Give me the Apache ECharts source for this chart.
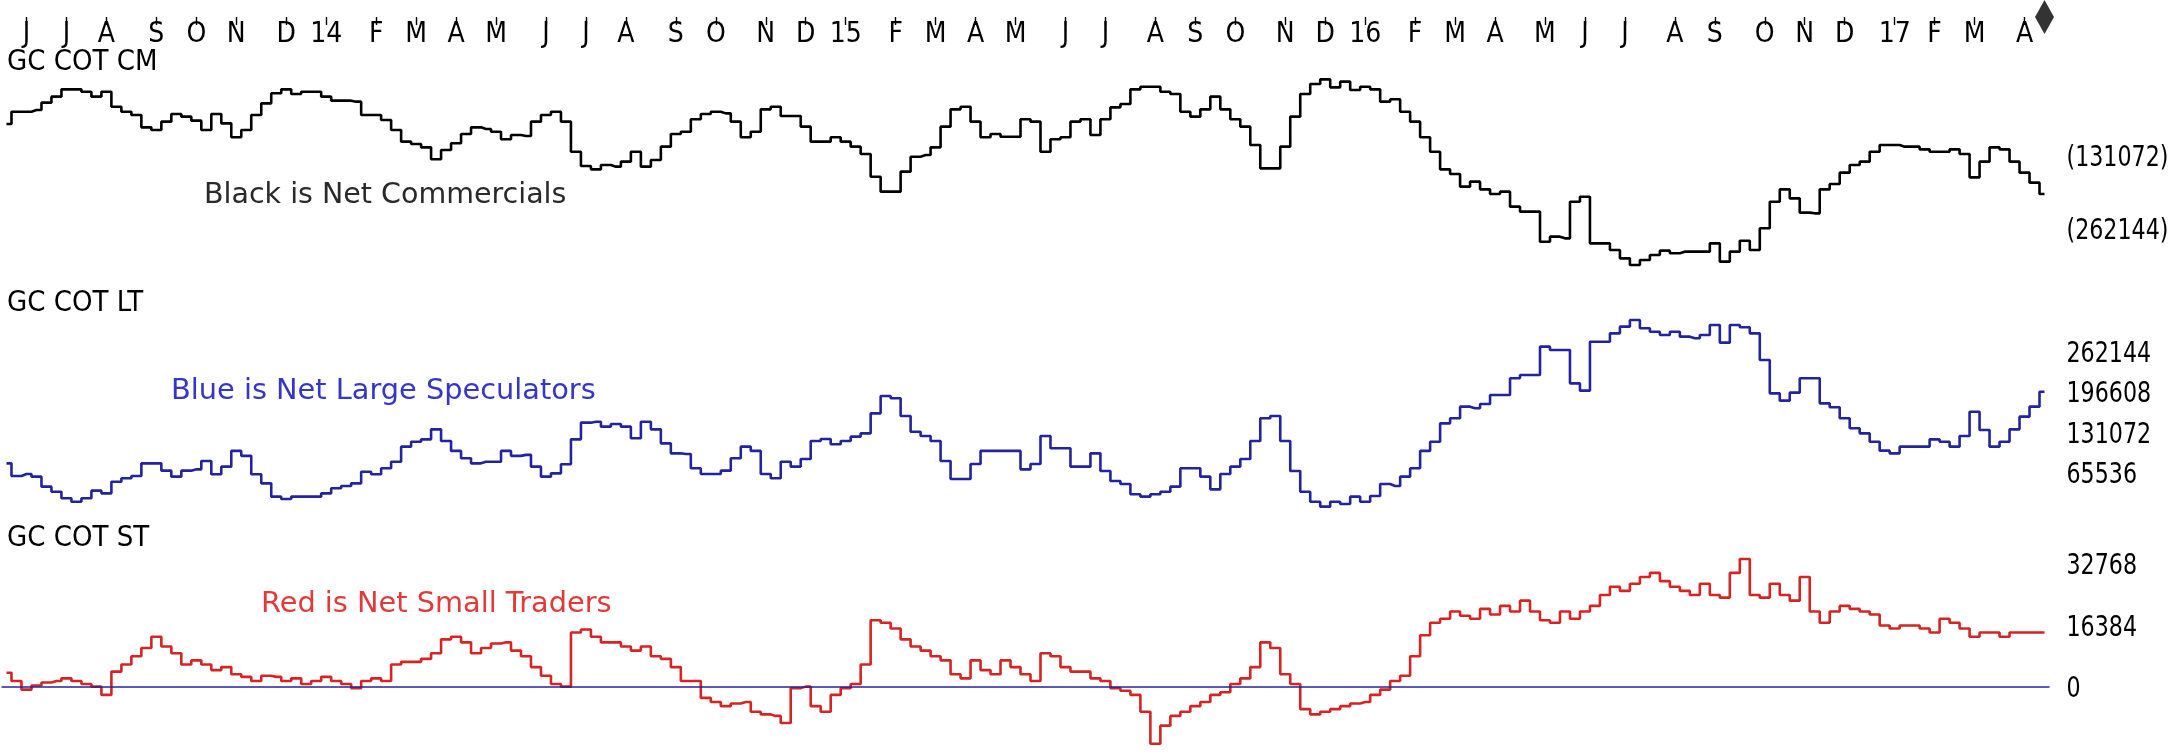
<!DOCTYPE html>
<html><head><meta charset="utf-8">
<script src="https://cdn.jsdelivr.net/npm/echarts@6/dist/echarts.min.js"></script>
<style>html,body{margin:0;padding:0;background:#fff}#c{width:2179px;height:755px}</style>
</head><body><div id="c"></div>
<script>
// ---- data (weekly COT, Fridays) ----
const START_FRIDAY = [2013, 4, 24]; // 24 May 2013
const WEEK_COUNT = 205;
const MONTH_INITIALS = ['J','F','M','A','M','J','J','A','S','O','N','D'];
const PANEL_TITLES = ['GC COT CM', 'GC COT LT', 'GC COT ST'];
const PANEL_NOTES = ['Black is Net Commercials', 'Blue is Net Large Speculators', 'Red is Net Small Traders'];
const CM_TICKS = [-131072, -262144];
const LT_TICKS = [262144, 196608, 131072, 65536];
const ST_TICKS = [32768, 16384, 0];

const netCommercials = [
-77200,-55100,-55100,-52100,-38900,-28100,-15000,-15000,-19200,-28100,
-19200,-46100,-55100,-61000,-83200,-88000,-73000,-59300,-64000,-71200,
-88000,-59300,-76000,-101100,-88000,-61000,-40100,-22100,-15000,-23300,
-19200,-19200,-28100,-35300,-35300,-37100,-61000,-61000,-70000,-88000,
-108900,-113100,-119100,-140600,-123900,-111900,-95200,-83200,-86200,-91000,
-104700,-97000,-98800,-73000,-61000,-55100,-73000,-126900,-152600,-158600,
-150800,-153800,-144800,-126900,-153800,-141800,-117900,-95200,-91000,-68800,
-59300,-55100,-58100,-73000,-101100,-91000,-50900,-46100,-62800,-62800,
-82000,-108900,-108900,-101100,-108900,-117900,-131100,-171800,-198700,-198700,
-162800,-135900,-132900,-119100,-82000,-50900,-46100,-73000,-101100,-95200,
-100000,-100000,-68800,-73000,-126900,-104700,-101100,-73000,-68800,-97000,
-68800,-47300,-41300,-15000,-10200,-10200,-19200,-23300,-55100,-64000,
-50900,-28100,-50900,-68800,-82000,-114900,-156800,-156800,-117900,-64000,
-23300,-5400,3000,-11400,-1200,-16200,-10200,-15000,-37100,-32900,
-55100,-73000,-101100,-126900,-158600,-167000,-189700,-180700,-194500,-202900,
-198700,-225600,-234600,-234600,-288500,-279500,-282500,-216700,-207700,-291500,
-291500,-303400,-318400,-330400,-321400,-312400,-304600,-309400,-306400,-306400,
-306400,-291500,-324400,-306400,-286700,-303400,-264500,-216700,-194500,-210700,
-236400,-237600,-194500,-184900,-164600,-150800,-144800,-126900,-114900,-114900,
-117900,-117900,-122700,-126900,-126900,-122700,-131100,-173000,-144800,-119100,
-122700,-144800,-164600,-182500,-202900
];
const netLargeSpeculators = [
80800,60200,63400,59100,42800,34600,23800,18300,23800,36300,
31900,50900,56400,60200,80800,80800,68900,59100,68900,71000,
84600,62900,75400,101100,93000,62900,48200,26500,22700,26500,
26500,26500,31900,40100,43900,48200,67200,62900,72700,83500,
108000,116100,119900,136200,117200,101100,89100,80800,83500,83500,
101100,93000,94600,75400,59100,64500,79200,119900,147100,148700,
140600,144900,140600,121600,148700,136200,113400,97100,96000,72700,
63400,63400,68900,89000,108000,101100,63400,56400,83500,75400,
87900,117200,120500,111800,117200,124300,129700,162300,190600,186800,
158000,132400,125400,117200,84600,55300,55300,79700,101100,101100,
101100,101100,71000,79700,125400,105300,105300,75400,75400,97100,
68300,52000,47100,30300,26500,30300,34600,42800,72700,72700,
59100,38400,63400,75400,87900,117200,154200,158000,117200,68300,
34600,18300,10200,18300,14500,26500,18300,27600,47100,43900,
59100,72700,101100,116100,146000,154200,173200,170500,177500,192200,
192200,219400,224800,224800,271000,265600,265600,211200,199300,279100,
279100,292700,303600,314400,300900,295400,290000,295400,287300,284600,
290000,306300,277500,306300,302500,292700,249300,194900,183000,196000,
219400,219400,178600,172100,154200,137900,129700,116100,101500,97100,
108000,108000,108000,119900,116100,108000,125400,165000,135100,108000,
116100,136200,156900,173200,197600
];
const netSmallTraders = [
3800,1600,-700,400,1200,1600,2300,1600,800,100,
-2100,4100,6000,8200,10400,13400,10800,9000,6000,7100,
6000,4500,5300,3400,2700,1600,3000,2700,1600,2300,
800,1600,2700,1600,800,-300,1600,2300,1600,6000,
6700,6700,7500,9000,12700,13400,11900,9000,10400,11600,
11900,9700,8200,5300,3000,800,100,14500,15300,13400,
11900,11900,10800,9700,10800,8200,7500,5300,1600,1600,
-2900,-4000,-5100,-4400,-4000,-6600,-7300,-7700,-9600,-300,
100,-5100,-6600,-2100,-300,800,6000,17800,17100,15600,
12700,10800,9700,8200,7100,3400,2300,7100,4500,3400,
7100,5300,3400,1600,9000,8200,5300,4100,4100,2300,
1600,-300,-1000,-2100,-6600,-15100,-10300,-7700,-6600,-5100,
-4000,-2100,-1400,800,2300,5300,11900,10400,3400,800,
-5900,-7300,-6600,-5900,-5100,-4400,-4000,-2100,-700,1600,
3000,8200,13800,17100,18200,20100,19000,18200,20800,19300,
21600,20100,23000,20100,17800,17100,20100,18200,20100,21600,
24500,26700,25600,27500,29300,30400,28200,26700,25600,24500,
27500,24500,23800,30400,34100,24500,23800,27500,24500,23000,
29300,20100,17100,20100,21600,20800,20100,19300,16400,15600,
16400,16400,15600,14500,18200,17100,15600,13400,14500,14500,
13400,14500,14500,14500,14500
];

// weekly category axis (Friday dates)
const weeks = [];
for (let i = 0; i < WEEK_COUNT; i++) {
  const d = new Date(Date.UTC(START_FRIDAY[0], START_FRIDAY[1], START_FRIDAY[2] + 7 * i));
  weeks.push(d.toISOString().slice(0, 10));
}
function isMonthStart(i) { return i > 0 && weeks[i].slice(5, 7) !== weeks[i - 1].slice(5, 7); }
function monthLabel(i) {
  const m = +weeks[i].slice(5, 7);
  return m === 1 ? weeks[i].slice(2, 4) : MONTH_INITIALS[m - 1];
}

// ---- styling ----
const NARROW = "'DejaVu Sans Condensed','DejaVu Sans',sans-serif";
const NOTE_FONT = "'DejaVu Sans',Verdana,sans-serif";
const BLUE = '#23239b';
const RED = '#d42424';
const L = 1.5, W = 2048;
const LABEL_X = L + W + 17;

const hiddenX = (gi) => ({
  type: 'category', gridIndex: gi, data: weeks, boundaryGap: true,
  axisLine: {show: false}, axisTick: {show: false}, axisLabel: {show: false}, splitLine: {show: false}
});
const rightY = (gi, min, max) => ({
  type: 'value', gridIndex: gi, position: 'right', min: min, max: max, scale: false,
  axisLine: {show: false}, axisTick: {show: false}, splitLine: {show: false}, axisLabel: {show: false}
});

const chart = echarts.init(document.getElementById('c'), null, {renderer: 'canvas'});
chart.setOption({
  animation: false,
  backgroundColor: '#fff',
  grid: [
    {left: L, width: W, top: 70, height: 210},
    {left: L, width: W, top: 300, height: 230},
    {left: L, width: W, top: 545, height: 210},
    {left: L, width: W, top: 0, height: 34}
  ],
  xAxis: [
    hiddenX(0), hiddenX(1), hiddenX(2),
    {
      type: 'category', gridIndex: 3, data: weeks, boundaryGap: true, position: 'top',
      axisLine: {show: false}, splitLine: {show: false},
      axisTick: {show: true, inside: true, length: 8, alignWithLabel: true,
        interval: (i) => isMonthStart(i), lineStyle: {color: '#000', width: 1.4}},
      axisLabel: {inside: true, margin: 21, verticalAlign: 'top',
        interval: (i) => isMonthStart(i), formatter: (v, i) => monthLabel(i),
        fontFamily: NARROW, fontSize: 28, color: '#000'}
    }
  ],
  yAxis: [
    rightY(0, -357305, 19750),
    rightY(1, -27863, 347037),
    rightY(2, -18115, 37829),
    {type: 'value', gridIndex: 3, min: -1, max: 1, show: false}
  ],
  series: [
    {type: 'line', name: 'CM', xAxisIndex: 0, yAxisIndex: 0, step: 'middle', symbol: 'none',
     lineStyle: {color: '#000', width: 2.6}, data: netCommercials},
    {type: 'line', name: 'LT', xAxisIndex: 1, yAxisIndex: 1, step: 'middle', symbol: 'none',
     lineStyle: {color: BLUE, width: 2.6}, data: netLargeSpeculators},
    {type: 'line', name: 'ST', xAxisIndex: 2, yAxisIndex: 2, step: 'middle', symbol: 'none', clip: false,
     lineStyle: {color: RED, width: 2.6}, data: netSmallTraders,
     markLine: {silent: true, symbol: ['none', 'none'], label: {show: false},
       lineStyle: {color: BLUE, width: 1.6, type: 'solid'}, data: [{yAxis: 0}]}},
    {type: 'scatter', xAxisIndex: 3, yAxisIndex: 3, symbol: 'diamond', symbolSize: [19, 34],
     itemStyle: {color: '#000'}, data: [[WEEK_COUNT - 1, 0]]}
  ]
});

// panel titles / notes, and right-hand value labels placed through the axes' own scales
const texts = [
  {type: 'text', x: 7, y: 62.5, style: {text: PANEL_TITLES[0], fontFamily: NARROW, fontSize: 29, fill: '#000', verticalAlign: 'middle'}},
  {type: 'text', x: 7, y: 303, style: {text: PANEL_TITLES[1], fontFamily: NARROW, fontSize: 29, fill: '#000', verticalAlign: 'middle'}},
  {type: 'text', x: 7, y: 538, style: {text: PANEL_TITLES[2], fontFamily: NARROW, fontSize: 29, fill: '#000', verticalAlign: 'middle'}},
  {type: 'text', x: 204, y: 196, style: {text: PANEL_NOTES[0], fontFamily: NOTE_FONT, fontSize: 28.5, fill: '#2a2a2a', verticalAlign: 'middle'}},
  {type: 'text', x: 171, y: 392, style: {text: PANEL_NOTES[1], fontFamily: NOTE_FONT, fontSize: 28.8, fill: '#3535c8', verticalAlign: 'middle'}},
  {type: 'text', x: 261, y: 605, style: {text: PANEL_NOTES[2], fontFamily: NOTE_FONT, fontSize: 28.8, fill: '#e03a3a', verticalAlign: 'middle'}}
];
const axisLabelSets = [
  {axis: 0, ticks: CM_TICKS, fmt: (v) => '(' + Math.abs(v) + ')', dy: 4},
  {axis: 1, ticks: LT_TICKS, fmt: (v) => String(v), dy: 2.5},
  {axis: 2, ticks: ST_TICKS, fmt: (v) => String(v), dy: 2.5}
];
axisLabelSets.forEach((s) => {
  s.ticks.forEach((v) => {
    const py = chart.convertToPixel({yAxisIndex: s.axis}, v);
    texts.push({type: 'text', x: LABEL_X, y: py + s.dy, scaleX: 0.85,
      style: {text: s.fmt(v), fontFamily: NARROW, fontSize: 29, fill: '#000', align: 'left', verticalAlign: 'middle'}});
  });
});
chart.setOption({graphic: texts});
</script></body></html>
